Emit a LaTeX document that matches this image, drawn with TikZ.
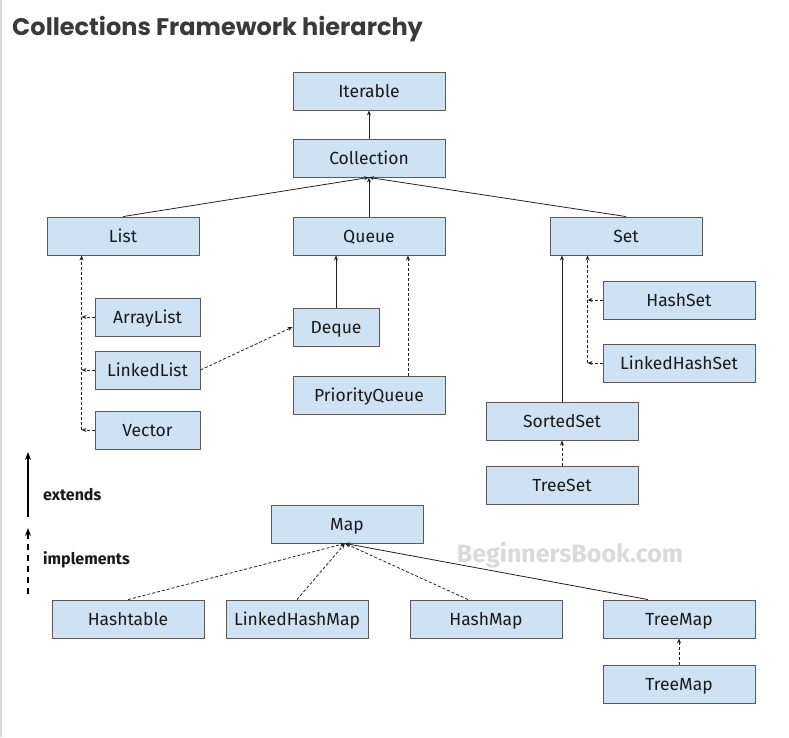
\documentclass[tikz,border=0pt]{standalone}
\usepackage{fontspec}
\setmainfont{Fira Sans}
\newfontfamily\titlefont{Poppins}
\usetikzlibrary{arrows.meta}
\definecolor{boxfill}{HTML}{CFE2F3}
\definecolor{boxline}{HTML}{5A5A5A}
\definecolor{textcol}{HTML}{1A1A1A}
\definecolor{linecol}{HTML}{222222}
\definecolor{titlecol}{HTML}{3A3A3A}
\definecolor{wmcol}{HTML}{DADADA}
\begin{document}
\begin{tikzpicture}[x=1pt,y=-1pt,
  box/.style={draw=boxline,fill=boxfill,line width=0.9pt,minimum width=152pt,minimum height=38pt,inner sep=0pt,text height=14.5pt,text depth=1.5pt,font=\fontsize{17.5}{20}\selectfont,text=textcol},
  ext/.style={-{Stealth[length=5pt,width=4pt]},line width=0.8pt,draw=linecol},
  impl/.style={ext,dash pattern=on 3pt off 2pt},
  legtext/.style={anchor=west,inner sep=0pt,font=\fontsize{16}{18}\selectfont\bfseries,text=textcol}]
\useasboundingbox (0,0) rectangle (789,737);
\fill[white] (0,0) rectangle (789,737);
\draw[black!15,line width=1.5pt] (1,0) -- (1,737);
% title
\node[anchor=base west,inner sep=0pt,text=titlecol,font=\titlefont\bfseries\fontsize{24}{28}\selectfont] (title) at (12,35) {Collections Framework hierarchy};
% watermark
\node[inner sep=0pt,text=wmcol,font=\fontsize{25}{29}\selectfont\bfseries] (wm) at (570,555) {BeginnersBook.com};
% nodes
\node[box] (Iterable) at (369,91) {Iterable};
\node[box] (Collection) at (369,158) {Collection};
\node[box] (List) at (123,236) {List};
\node[box] (Queue) at (369,236) {Queue};
\node[box] (Set) at (626,236) {Set};
\node[box,minimum width=105pt] (ArrayList) at (147.5,317) {ArrayList};
\node[box,minimum width=105pt] (LinkedList) at (147.5,370) {LinkedList};
\node[box,minimum width=105pt] (Vector) at (147.5,430) {Vector};
\node[box,minimum width=86pt] (Deque) at (336,327) {Deque};
\node[box] (PQ) at (369,395) {PriorityQueue};
\node[box] (HashSet) at (679,300) {HashSet};
\node[box] (LHS) at (679,363) {LinkedHashSet};
\node[box] (SortedSet) at (562,421) {SortedSet};
\node[box] (TreeSet) at (562,485) {TreeSet};
\node[box] (Map) at (347,524) {Map};
\node[box] (Hashtable) at (128,619) {Hashtable};
\node[box,minimum width=142pt] (LHM) at (297,619) {LinkedHashMap};
\node[box] (HashMap) at (486,619) {HashMap};
\node[box] (TreeMap) at (679,619) {TreeMap};
\node[box] (TreeMapB) at (679,684) {TreeMap};
% Collection hierarchy
\draw[ext] (Collection) -- (Iterable);
\draw[ext] (List.north) -- (Collection.south);
\draw[ext] (Queue.north) -- (Collection.south);
\draw[ext] (Set.north) -- (Collection.south);
% List branch
\coordinate (lt) at ([xshift=35pt]List.south west);
\coordinate (lv) at (Vector.west -| lt);
\draw[impl] (lv) -- (lt);
\draw[impl] (ArrayList.west) -- (ArrayList.west -| lt);
\draw[impl] (LinkedList.west) -- (LinkedList.west -| lt);
\draw[impl] (Vector.west) -- (lv);
% Queue branch
\draw[ext] (Deque.north) -- (Deque.north |- Queue.south);
\coordinate (pqt) at ([xshift=39pt]PQ.north);
\draw[impl] (pqt) -- (pqt |- Queue.south);
\draw[impl] (LinkedList.east) -- (Deque.west);
% Set branch
\coordinate (st) at ([xshift=38pt]Set.south west);
\coordinate (sl) at (LHS.west -| st);
\draw[impl] (sl) -- (st);
\draw[impl] (HashSet.west) -- (HashSet.west -| st);
\draw[impl] (LHS.west) -- (sl);
\draw[ext] (SortedSet.north) -- (SortedSet.north |- Set.south);
\draw[impl] (TreeSet) -- (SortedSet);
% Map branch
\coordinate (ms) at ([xshift=-2pt]Map.south);
\draw[impl] (Hashtable.north) -- (ms);
\draw[impl] (LHM.north) -- (ms);
\draw[impl] ([xshift=-18pt]HashMap.north) -- (ms);
\draw[ext] ([xshift=-31pt]TreeMap.north) -- (ms);
\draw[impl] (TreeMapB) -- (TreeMap);
% legend
\coordinate (e1) at (28,517);
\coordinate (e2) at (28,452);
\coordinate (i1) at (28,594);
\coordinate (i2) at (28,528);
\draw[-{Stealth[length=8pt,width=6pt]},line width=1.6pt,draw=black] (e1) -- (e2);
\draw[-{Stealth[length=8pt,width=6pt]},line width=1.6pt,draw=black,dash pattern=on 6pt off 5pt] (i1) -- (i2);
\node[legtext] (lext) at (43,495) {extends};
\node[legtext] (limp) at (43,560) {implements};
\end{tikzpicture}
\end{document}
